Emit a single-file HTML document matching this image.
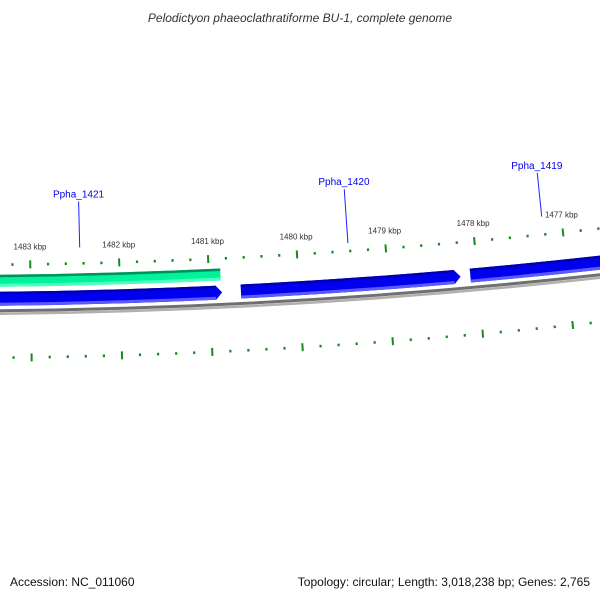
<!DOCTYPE html>
<html><head><meta charset="utf-8"><style>
html,body{margin:0;padding:0;background:#fff;}
svg{display:block;font-family:"Liberation Sans","DejaVu Sans",sans-serif;}
</style></head><body>
<svg id="map" width="600" height="600" viewBox="0 0 600 600" xmlns="http://www.w3.org/2000/svg">
<text x="300" y="22" text-anchor="middle" font-size="12" font-style="italic" fill="#333">Pelodictyon phaeoclathratiforme BU-1, complete genome</text>
<g id="ticksUpper"></g>
<g id="ticksLower"></g>
<g id="features"></g>
<g id="backbone"></g>
<g id="labels"></g>
<text x="10" y="586" font-size="12" fill="#111">Accession: NC_011060</text>
<text x="590" y="586" text-anchor="end" font-size="12" fill="#111">Topology: circular; Length: 3,018,238 bp; Genes: 2,765</text>
</svg>
<script>
// data
const majorTicks = [1484, 1483, 1482, 1481, 1480, 1479, 1478, 1477, 1476];
const tickLabels = ["1484 kbp","1483 kbp","1482 kbp","1481 kbp","1480 kbp","1479 kbp","1478 kbp","1477 kbp","1476 kbp"];
const featureNames = ["Ppha_1421_other","Ppha_1421","Ppha_1420","Ppha_1419"];
const featureStart = [1484.5, 1484.5, 1480.65, 1478.08];
const featureEnd = [1480.87, 1480.86, 1478.19, 1475.5];
const featureRow = [1, 0, 0, 0];
const labelNames = ["Ppha_1421","Ppha_1420","Ppha_1419"];
const labelPos = [1482.44, 1479.42, 1477.22];
const labelLineStart = [16, 8, 18];

const NS="http://www.w3.org/2000/svg";
const cx=-58, cy=-5675, rt=5940, rb=rt+47, rl=rb+46;
const beta0=1.5110, k=0.01498;
function beta(p){return beta0-(1480-p)*k;}
function pt(p,r){const b=beta(p);return [cx+r*Math.cos(b), cy+r*Math.sin(b)];}
function f(v){return v[0].toFixed(2)+","+v[1].toFixed(2);}
function mk(tag,parent,attrs){const e=document.createElementNS(NS,tag);for(const a in attrs)e.setAttribute(a,attrs[a]);parent.appendChild(e);return e;}

const gU=document.getElementById('ticksUpper'), gL=document.getElementById('ticksLower');
for(let i=0;i<majorTicks.length;i++){
  for(let j=0;j<5;j++){
    const p=majorTicks[i]-j*0.2;
    const major=(j===0);
    const h=major?4:1.3;
    const a=pt(p,rt-h), b=pt(p,rt+h);
    const t=mk('line',gU,{x1:a[0],y1:a[1],x2:b[0],y2:b[1],stroke:'#1a8a1a','stroke-width':major?2:2.2});
    
    
    const c=pt(p,rl-h), d=pt(p,rl+h);
    const t2=mk('line',gL,{x1:c[0],y1:c[1],x2:d[0],y2:d[1],stroke:'#1a8a1a','stroke-width':major?2:2.2});
    
    
  }
  const lp=pt(majorTicks[i],rt-15);
  const tx=mk('text',gU,{x:lp[0],y:lp[1],'text-anchor':'middle','font-size':'8',fill:'#333'});
  tx.textContent=tickLabels[i];
  
  
}

// r1 = top (smaller radius), r2 = bottom (larger radius)
function arcPath(pS,pE,r1,r2,tip){
  const head=0.07;
  const pB=tip?pE+head:pE;
  let d="M"+f(pt(pS,r1))+" A"+r1+" "+r1+" 0 0 0 "+f(pt(pB,r1));
  if(tip) d+=" L"+f(pt(pE,(r1+r2)/2));
  d+=" L"+f(pt(pB,r2))+" A"+r2+" "+r2+" 0 0 1 "+f(pt(pS,r2))+" Z";
  return d;
}
const gF=document.getElementById('features');
for(let i=0;i<featureNames.length;i++){
  const teal=featureRow[i]===1;
  const r1=teal?rb-37:rb-20, r2=teal?rb-25:rb-6;
  const tip=!teal;
  const main=mk('path',gF,{d:arcPath(featureStart[i],featureEnd[i],r1,r2,tip),fill:teal?'#00f29a':'#0000ee'});
  
  
  const pB=tip?featureEnd[i]+0.07:featureEnd[i];
  const top=mk('path',gF,{d:arcPath(featureStart[i],pB,r1,r1+2.5,false),fill:teal?'#00905c':'#0000b0'});
  
  
  const bot=mk('path',gF,{d:arcPath(featureStart[i],pB,r2-3,r2,false),fill:teal?'#50ffc0':'#5a5aff'});
  
  
}

const gB=document.getElementById('backbone');
const bb1=mk('path',gB,{d:"M"+f(pt(1484.5,rb-1))+" A"+(rb-1)+" "+(rb-1)+" 0 0 0 "+f(pt(1475.5,rb-1)),fill:'none',stroke:'#707070','stroke-width':3});


const bb2=mk('path',gB,{d:"M"+f(pt(1484.5,rb+2))+" A"+(rb+2)+" "+(rb+2)+" 0 0 0 "+f(pt(1475.5,rb+2)),fill:'none',stroke:'#b0b0b0','stroke-width':2.5});



const gLab=document.getElementById('labels');
for(let i=0;i<labelNames.length;i++){
  const a=pt(labelPos[i],rt-labelLineStart[i]), b=pt(labelPos[i],rt-62);
  const ln=mk('line',gLab,{x1:a[0],y1:a[1],x2:b[0],y2:b[1],stroke:'#2020ff','stroke-width':1});
  
  
  const tp=pt(labelPos[i],rt-66);
  const tx=mk('text',gLab,{x:tp[0],y:tp[1],'text-anchor':'middle','font-size':'10',fill:'#0000ee'});
  tx.textContent=labelNames[i];
  
  
}
</script>
</body></html>
